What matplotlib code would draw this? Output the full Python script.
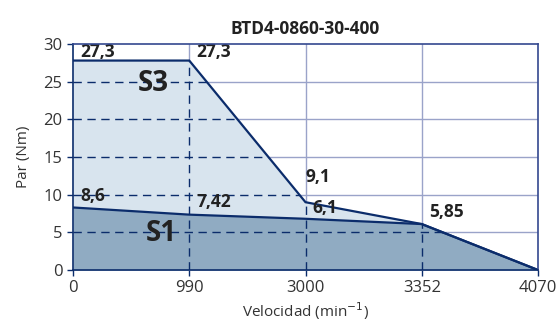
import matplotlib.pyplot as plt
from matplotlib.patches import Polygon

plt.rcParams['font.family'] = ['Open Sans', 'DejaVu Sans']

# data
speed_labels = ['0', '990', '3000', '3352', '4070']
s1_torque = [8.3, 7.35, 6.8, 6.1, 0.0]
s3_torque = [27.8, 27.8, 9.0, 6.1, 0.0]
point_labels = ['27,3', '27,3', '9,1', '6,1', '5,85', '8,6', '7,42']
label_x = [0.06, 1.06, 2.0, 2.06, 3.06, 0.06, 1.06]
label_y = [28.3, 28.3, 11.7, 7.6, 7.0, 9.1, 8.3]
y_ticks = [0, 5, 10, 15, 20, 25, 30]

navy = '#0b2c6b'
light_grid = '#9aa3c9'
x = list(range(len(speed_labels)))

fig = plt.figure(figsize=(5.6, 3.32), dpi=100)
ax = fig.add_axes([0.1304, 0.1867, 0.8303, 0.6808])

# light grid outside the curves
for yv in y_ticks[1:-1]:
    ax.axhline(yv, color=light_grid, lw=1.0, zorder=1)
for xv in x[1:-1]:
    ax.axvline(xv, color=light_grid, lw=1.0, zorder=1)

ax.fill_between(x, s3_torque, color='#d8e4ee', zorder=2, lw=0)
ax.fill_between(x, s1_torque, color='#90abc2', zorder=3, lw=0)

# dashed grid only inside the S3 region
clip = Polygon(list(zip(x, s3_torque)) + [(4, 0), (0, 0)], closed=True)
clip.set_transform(ax.transData)
for yv in y_ticks[1:-1]:
    ln = ax.axhline(yv, color=navy, lw=1.0, dashes=(6, 4), zorder=4)
    ln.set_clip_path(clip)
for xv in x[1:-1]:
    ln = ax.axvline(xv, color=navy, lw=1.0, dashes=(6, 4), zorder=4)
    ln.set_clip_path(clip)

ax.plot(x, s3_torque, color=navy, lw=1.6, zorder=5, solid_joinstyle='miter')
ax.plot(x, s1_torque, color=navy, lw=1.6, zorder=5, solid_joinstyle='miter')

for t, lx, ly in zip(point_labels, label_x, label_y):
    ax.text(lx, ly, t, fontsize=12.5, fontweight='bold', color='#222222',
            ha='left', va='baseline', zorder=6)

ax.text(0.69, 24.8, 'S3', fontsize=20, fontweight='bold', color='#222222',
        ha='center', va='center', zorder=6)
ax.text(0.76, 4.8, 'S1', fontsize=20, fontweight='bold', color='#222222',
        ha='center', va='center', zorder=6)

ax.set_xlim(0, 4)
ax.set_ylim(0, 30)
ax.set_xticks(x)
ax.set_xticklabels(speed_labels)
ax.set_yticks(y_ticks)
ax.tick_params(colors=navy, labelcolor='#333333', labelsize=12, length=4, width=1)
for side, sp in ax.spines.items():
    sp.set_color(navy if side in ('left', 'bottom') else '#34488f')
    sp.set_linewidth(1.2)
    sp.set_zorder(7)

ax.set_title('BTD4-0860-30-400', fontsize=12.5, fontweight='bold', color='#222222', pad=7)
ax.set_xlabel('Velocidad (min$^{-1}$)', fontsize=11, color='#333333', labelpad=3)
ax.set_ylabel('Par (Nm)', fontsize=11, color='#333333', labelpad=9)

fig.savefig('out.png', dpi=100)
